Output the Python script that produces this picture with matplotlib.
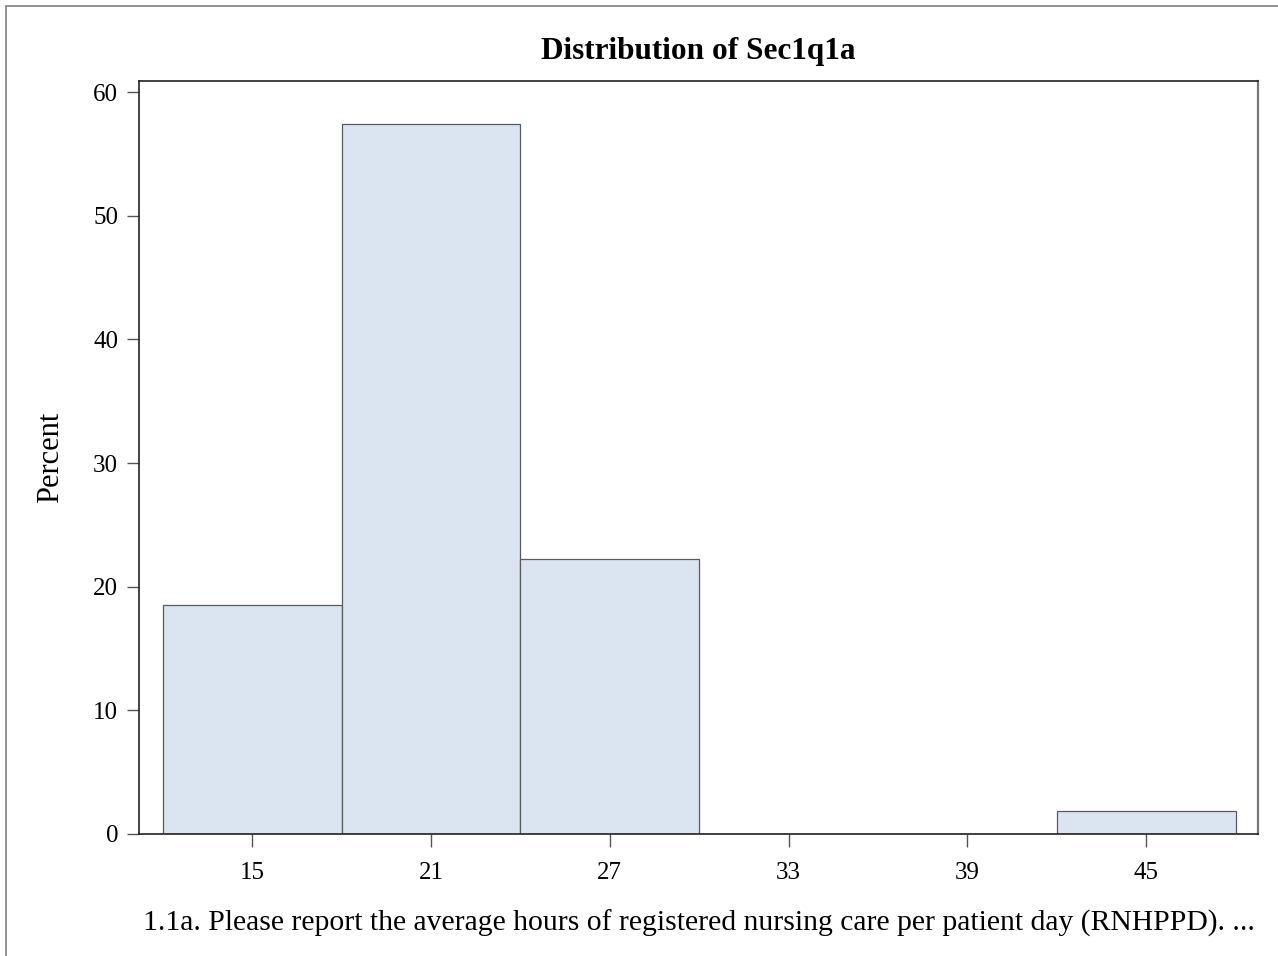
import matplotlib.pyplot as plt
from matplotlib.patches import Rectangle

plt.rcParams['font.family'] = ['Liberation Serif', 'DejaVu Serif']

# histogram bins (midpoints) and percent of observations
midpoints = [15, 21, 27, 33, 39, 45]
percent = [18.52, 57.41, 22.22, 0.0, 0.0, 1.85]
bin_width = 6
xticks = [15, 21, 27, 33, 39, 45]
yticks = [0, 10, 20, 30, 40, 50, 60]

fig = plt.figure(figsize=(12.78, 9.56), dpi=100)
ax = fig.add_axes([139/1278, 1 - 834/956, (1258-139)/1278, (834-81)/956])

# outer frame of the graph
fig.patches.append(Rectangle((6/1278, -0.01), 1.1, 1 - 6/956 + 0.01,
                             transform=fig.transFigure, fill=False,
                             edgecolor='#808080', linewidth=1.2))

ax.bar(midpoints, percent, width=bin_width, color='#DBE5F1',
       edgecolor='#5a5a5a', linewidth=0.9, zorder=2)

ax.set_xlim(11.2, 48.75)
ax.set_ylim(0, 60.9)
ax.set_xticks(xticks)
ax.set_yticks(yticks)

for s in ['left', 'bottom', 'top']:
    ax.spines[s].set_color('#222222')
    ax.spines[s].set_linewidth(1.2)
ax.spines['right'].set_color('#777777')
ax.spines['right'].set_linewidth(1.6)

ax.tick_params(axis='both', direction='out', length=9, width=1,
               colors='#555555', labelcolor='black', labelsize=18)
ax.tick_params(axis='x', pad=11)
ax.tick_params(axis='y', pad=6)

ax.set_title('Distribution of Sec1q1a', fontsize=22.5, fontweight='bold', pad=16)
ax.set_ylabel('Percent', fontsize=22, labelpad=20)
ax.set_xlabel('1.1a. Please report the average hours of registered nursing care '
              'per patient day (RNHPPD). ...', fontsize=21.3, labelpad=19)

fig.savefig('out.png', dpi=100)
